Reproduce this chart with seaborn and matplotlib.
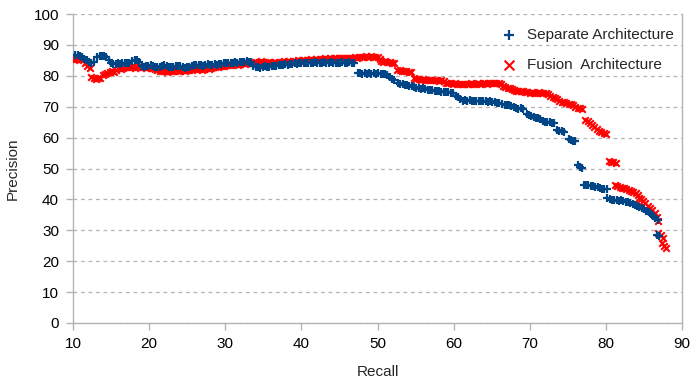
import matplotlib
matplotlib.use("Agg")
import matplotlib.pyplot as plt
import seaborn as sns
import pandas as pd

sep_recall = [10.3, 10.6, 10.9, 11.2, 11.5, 11.8, 12.1, 12.4, 12.8,
              13.2, 13.5, 13.8, 14.1, 14.4, 14.7, 15.0, 15.3, 15.6, 15.9, 16.2, 16.5, 16.8, 17.1, 17.4, 17.8, 18.1, 18.4, 18.7,
              19.0, 19.3, 19.6, 19.9, 20.2, 20.5, 20.8, 21.1, 21.4, 21.7, 22.0, 22.3, 22.6, 22.9, 23.2, 23.5, 23.8, 24.1, 24.4, 24.7,
              25.0, 25.3, 25.6, 25.9, 26.2, 26.5, 26.8, 27.1, 27.4, 27.7, 28.0, 28.3, 28.6, 28.9, 29.2, 29.5, 29.8, 30.1, 30.4, 30.7,
              31.0, 31.3, 31.6, 31.9, 32.2, 32.5, 32.8, 33.1, 33.4,
              33.7, 34.0, 34.3, 34.6, 34.9, 35.2, 35.5, 35.8, 36.1, 36.4, 36.7, 37.0, 37.3, 37.6, 37.9, 38.2, 38.5, 38.8, 39.1, 39.4,
              39.7, 40.0, 40.3, 40.6, 40.9, 41.2, 41.5, 41.8, 42.1, 42.4, 42.7, 43.0, 43.3, 43.6, 43.9, 44.2, 44.5, 44.8, 45.1, 45.4,
              45.7, 46.0, 46.3, 46.6, 46.9,
              47.4, 47.7, 48.0, 48.3, 48.6, 48.9, 49.2, 49.5, 49.8, 50.1, 50.4, 50.7, 51.0, 51.3, 51.6, 51.9, 52.2,
              52.7, 53.0, 53.3, 53.6, 53.9, 54.2, 54.5, 54.8, 55.1, 55.4, 55.7, 56.0, 56.3, 56.6, 56.9, 57.2, 57.5, 57.8, 58.1, 58.4,
              58.7, 59.0, 59.3, 59.6, 59.9,
              60.3, 60.6, 60.9, 61.2, 61.5, 61.8, 62.1, 62.4, 62.7, 63.0, 63.3, 63.6, 63.9, 64.2, 64.5, 64.8, 65.1, 65.4, 65.7, 66.0, 66.3,
              66.7, 67.0, 67.3, 67.6, 67.9, 68.2, 68.5, 68.8, 69.1,
              69.6, 69.9, 70.2, 70.5, 70.8, 71.1, 71.4, 71.7, 72.0, 72.3, 72.6, 72.9, 73.2,
              73.6, 73.9, 74.2, 74.5,
              75.1, 75.4, 75.7, 76.0,
              76.3, 76.6, 76.9,
              77.1, 77.4, 77.7, 78.0, 78.3, 78.6, 78.9, 79.2, 79.5, 79.8, 80.1,
              80.2, 80.5, 80.8, 81.1, 81.4, 81.7, 82.0, 82.3, 82.6, 82.9, 83.2, 83.5, 83.8, 84.1, 84.4, 84.7, 85.0, 85.3, 85.6, 85.9,
              86.2, 86.5, 86.8,
              86.7, 87.0]
sep_precision = [86.6, 86.8, 86.5, 86.2, 85.5, 85.0, 84.6, 84.3, 84.5,
                 86.0, 86.3, 86.4, 86.3, 86.0, 85.0, 84.2, 83.7, 83.8, 84.0, 83.9, 84.0, 84.2, 84.1, 84.3, 84.8, 85.0, 85.0, 84.6,
                 83.3, 83.0, 83.2, 83.1, 83.4, 83.2, 83.0, 82.8, 83.0, 83.2, 83.4, 83.3, 83.0, 82.8, 83.0, 83.1, 83.3, 83.2, 82.8, 82.6,
                 82.8, 83.0, 83.2, 83.5, 83.4, 83.6, 83.5, 83.3, 83.6, 83.7, 83.5, 83.6, 83.8, 83.6, 83.7, 83.9, 84.0, 84.1, 84.2, 84.0,
                 84.3, 84.4, 84.2, 84.5, 84.6, 84.4, 84.7, 84.5, 84.4,
                 83.3, 83.0, 82.8, 82.6, 82.9, 83.1, 82.8, 83.0, 83.3, 83.2, 83.1, 83.4, 83.6, 83.5, 83.8, 83.6, 83.7, 83.9, 84.0, 83.8,
                 84.1, 84.0, 84.2, 84.1, 84.3, 84.0, 84.2, 84.4, 84.2, 84.0, 84.3, 84.5, 84.3, 84.1, 84.4, 84.2, 84.0, 84.3, 84.1, 84.4,
                 84.3, 84.2, 84.4, 84.1, 84.2,
                 81.0, 80.8, 80.6, 80.8, 80.7, 80.9, 80.6, 80.8, 80.7, 80.9, 80.6, 80.7, 80.5, 80.2, 79.5, 79.0, 78.8,
                 77.6, 77.4, 77.2, 77.0, 76.9, 76.7, 76.6, 76.4, 76.2, 76.0, 75.8, 75.9, 75.6, 75.5, 75.3, 75.4, 75.2, 75.0, 75.1, 74.9,
                 74.7, 74.8, 74.6, 74.5, 74.3,
                 73.5, 73.0, 72.6, 72.0, 72.2, 71.9, 72.1, 72.0, 71.8, 72.0, 71.9, 71.7, 71.9, 71.8, 71.6, 71.7, 71.5, 71.6, 71.3, 71.2, 71.0,
                 70.6, 70.4, 70.5, 70.2, 70.0, 69.6, 69.4, 69.5, 69.3,
                 67.6, 67.3, 67.0, 66.8, 66.5, 66.3, 66.0, 65.5, 65.2, 65.0, 64.9, 64.8, 64.7,
                 62.5, 62.2, 62.0, 61.8,
                 59.6, 59.2, 58.9, 58.8,
                 51.0, 50.6, 50.2,
                 44.8, 44.6, 44.5, 44.3, 44.2, 44.0, 43.9, 43.7, 43.5, 43.4, 43.3,
                 40.3, 40.0, 39.8, 39.9, 39.7, 39.6, 39.7, 39.5, 39.3, 39.1, 38.8, 38.6, 38.3, 37.9, 37.6, 37.2, 36.8, 36.3, 35.8, 35.3,
                 34.7, 34.0, 33.3,
                 28.6, 28.3]

fus_recall = [10.1, 10.4, 10.7, 11.0, 11.3, 11.6, 11.9, 12.2,
              12.4, 12.7, 13.0, 13.3, 13.6,
              13.9, 14.2, 14.5, 14.8, 15.1, 15.4, 15.7, 16.0, 16.3, 16.6, 16.9, 17.2, 17.5, 17.8, 18.1, 18.4, 18.7, 19.0, 19.3, 19.6,
              19.9, 20.2, 20.5, 20.8, 21.1, 21.4, 21.7, 22.0, 22.3, 22.6, 22.9, 23.2, 23.5, 23.8, 24.1, 24.4, 24.7, 25.0, 25.3, 25.6,
              26.0, 26.3, 26.6, 26.9, 27.2, 27.5, 27.8, 28.1, 28.4, 28.7, 29.0, 29.3, 29.6, 29.9, 30.2, 30.5, 30.8, 31.1, 31.4, 31.7,
              32.0, 32.3, 32.6, 32.9, 33.2, 33.5, 33.8, 34.1, 34.4, 34.7, 35.0, 35.3, 35.6, 35.9, 36.2, 36.5, 36.8, 37.1, 37.4, 37.7,
              38.0, 38.3, 38.6, 38.9, 39.2, 39.5, 39.8, 40.1, 40.4, 40.7, 41.0, 41.3, 41.6, 41.9, 42.2, 42.5, 42.8, 43.1, 43.4, 43.7,
              44.0, 44.3, 44.6, 44.9, 45.2, 45.5, 45.8, 46.1, 46.4, 46.7, 47.0, 47.3, 47.6, 47.9, 48.2, 48.5, 48.8, 49.1, 49.4, 49.7,
              50.0, 50.3,
              50.4, 50.7, 51.0, 51.3, 51.6, 51.9, 52.2,
              52.6, 52.9, 53.2, 53.5, 53.8, 54.1, 54.4,
              54.8, 55.1, 55.4, 55.7, 56.0, 56.3, 56.6, 56.9, 57.2, 57.5, 57.8, 58.1, 58.4, 58.7,
              59.0, 59.3, 59.6, 59.9, 60.2, 60.5, 60.8, 61.1, 61.4, 61.7, 62.0, 62.3, 62.6, 62.9, 63.2, 63.5, 63.8, 64.1, 64.4, 64.7,
              65.0, 65.3, 65.6, 65.9, 66.2,
              66.5, 66.8, 67.1, 67.4, 67.7,
              67.9, 68.2, 68.5, 68.8, 69.1, 69.4,
              69.7, 70.0, 70.3, 70.6, 70.9, 71.2, 71.5, 71.8, 72.1, 72.4,
              72.7, 73.0, 73.3, 73.6,
              73.9, 74.2, 74.5, 74.8, 75.1, 75.4, 75.7,
              76.0, 76.3, 76.6, 76.9,
              77.3, 77.6, 77.9, 78.2, 78.5, 78.8, 79.1, 79.4, 79.7, 80.0,
              80.4, 80.7, 81.0, 81.3,
              81.2, 81.5, 81.8, 82.1, 82.4, 82.7, 83.0, 83.3, 83.6, 83.9, 84.2,
              84.3, 84.6, 84.9, 85.2, 85.5, 85.8, 86.1, 86.4, 86.7, 86.9,
              86.9, 87.2, 87.5,
              87.4, 87.7, 87.9]
fus_precision = [85.0, 85.3, 85.6, 85.5, 85.2, 84.0, 83.2, 82.6,
                 79.6, 79.2, 79.0, 79.4, 79.3,
                 80.2, 80.6, 80.9, 81.2, 81.5, 81.3, 82.0, 82.4, 82.2, 82.6, 82.8, 83.0, 82.7, 82.9, 82.6, 82.8, 83.2, 83.0, 82.7, 82.5,
                 82.8, 82.6, 82.4, 82.2, 81.9, 81.6, 81.4, 81.5, 81.3, 81.6, 81.4, 81.6, 81.8, 81.5, 81.7, 81.9, 81.6, 81.8, 82.0, 81.8,
                 82.1, 82.3, 82.2, 82.0, 82.3, 82.5, 82.3, 82.6, 82.8, 83.0, 82.9, 83.1, 83.3, 83.2, 83.4, 83.6, 83.4, 83.7, 83.8, 83.6,
                 83.9, 84.0, 83.8, 84.1, 84.3, 84.2, 84.5, 84.6, 84.4, 84.7, 84.5, 84.3, 84.6, 84.4, 84.2, 84.5, 84.3, 84.6, 84.4, 84.7,
                 84.5, 84.8, 84.6, 84.9, 84.7, 85.0, 84.8, 85.1, 85.0, 85.2, 85.0, 85.3, 85.1, 85.4, 85.2, 85.5, 85.3, 85.6, 85.4, 85.7,
                 85.5, 85.8, 85.6, 85.8, 85.6, 85.9, 85.7, 85.8, 85.6, 85.9, 86.0, 85.8, 86.0, 86.1, 86.2, 86.3, 86.2, 86.3, 86.1, 86.2,
                 86.0, 85.4,
                 84.8, 84.6, 84.7, 84.5, 84.6, 84.3, 84.2,
                 82.0, 81.8, 81.7, 81.5, 81.6, 81.3, 81.2,
                 79.2, 79.0, 78.9, 78.8, 78.9, 78.7, 78.8, 78.6, 78.7, 78.5, 78.6, 78.4, 78.5, 78.3,
                 77.8, 77.6, 77.7, 77.5, 77.6, 77.4, 77.5, 77.3, 77.4, 77.5, 77.4, 77.6, 77.5, 77.4, 77.6, 77.5, 77.7, 77.6, 77.5, 77.7,
                 77.6, 77.8, 77.6, 77.7, 77.5,
                 76.6, 76.3, 76.2, 76.0, 75.8,
                 75.3, 75.1, 75.2, 75.0, 75.1, 74.9,
                 74.6, 74.5, 74.6, 74.4, 74.5, 74.6, 74.4, 74.5, 74.3, 74.2,
                 73.4, 73.1, 72.8, 72.4,
                 71.9, 71.6, 71.4, 71.2, 71.0, 70.9, 70.7,
                 69.8, 69.6, 69.5, 69.3,
                 65.8, 65.3, 64.6, 64.0, 63.4, 62.8, 62.2, 61.8, 61.5, 61.3,
                 52.4, 52.1, 52.0, 51.9,
                 44.5, 44.2, 43.9, 43.7, 43.6, 43.4, 43.1, 42.8, 42.5, 42.0, 41.3,
                 40.3, 40.0, 39.4, 38.7, 38.0, 37.3, 36.5, 35.5, 34.4, 33.0,
                 29.2, 28.4, 27.6,
                 26.0, 25.0, 24.3]

sep_label = "Separate Architecture"
fus_label = "Fusion  Architecture"
x_ticks = [10, 20, 30, 40, 50, 60, 70, 80, 90]
y_ticks = [0, 10, 20, 30, 40, 50, 60, 70, 80, 90, 100]

sns.set_theme(style="white")
plt.rcParams["font.family"] = ["Liberation Sans", "DejaVu Sans"]
plt.rcParams["font.size"] = 11

BLUE = "#004586"
RED = "#ff0000"
GRAY = "#b3b3b3"

sep_df = pd.DataFrame({"Recall": sep_recall, "Precision": sep_precision})
fus_df = pd.DataFrame({"Recall": fus_recall, "Precision": fus_precision})

fig = plt.figure(figsize=(6.93, 3.8), dpi=100)
ax = fig.add_axes([73 / 693, 57 / 380, 609 / 693, 309 / 380])

sns.scatterplot(data=fus_df, x="Recall", y="Precision", marker="x", color=RED,
                s=22, linewidth=1.5, ax=ax, label=fus_label, zorder=3)
sns.scatterplot(data=sep_df, x="Recall", y="Precision", marker="+", color=BLUE,
                s=27, linewidth=1.6, ax=ax, label=sep_label, zorder=4)

ax.set_xlim(10, 90)
ax.set_ylim(0, 100)
ax.set_xticks(x_ticks)
ax.set_yticks(y_ticks)
ax.tick_params(axis="both", which="both", direction="out", length=5, width=1,
               color=GRAY, labelsize=11, labelcolor="black", pad=5,
               left=True, bottom=True)
ax.yaxis.grid(True, color=GRAY, linestyle=(0, (3, 3)), linewidth=0.9)
ax.xaxis.grid(False)
ax.set_axisbelow(True)
for side in ["left", "bottom", "right"]:
    ax.spines[side].set_color(GRAY)
    ax.spines[side].set_linewidth(1)
    ax.spines[side].set_visible(True)
ax.spines["top"].set_visible(False)

ax.set_xlabel("Recall", fontsize=11, labelpad=10)
ax.set_ylabel("Precision", fontsize=11, labelpad=10)

handles, labels = ax.get_legend_handles_labels()
order = [labels.index(sep_label), labels.index(fus_label)]
leg = ax.legend([handles[i] for i in order], [labels[i] for i in order],
                loc="upper left", bbox_to_anchor=(0.693, 0.975), frameon=False,
                handlelength=1.0, handletextpad=0.7, labelspacing=1.05,
                markerscale=1.5, fontsize=11, borderaxespad=0)

fig.savefig("out.png", dpi=100)
